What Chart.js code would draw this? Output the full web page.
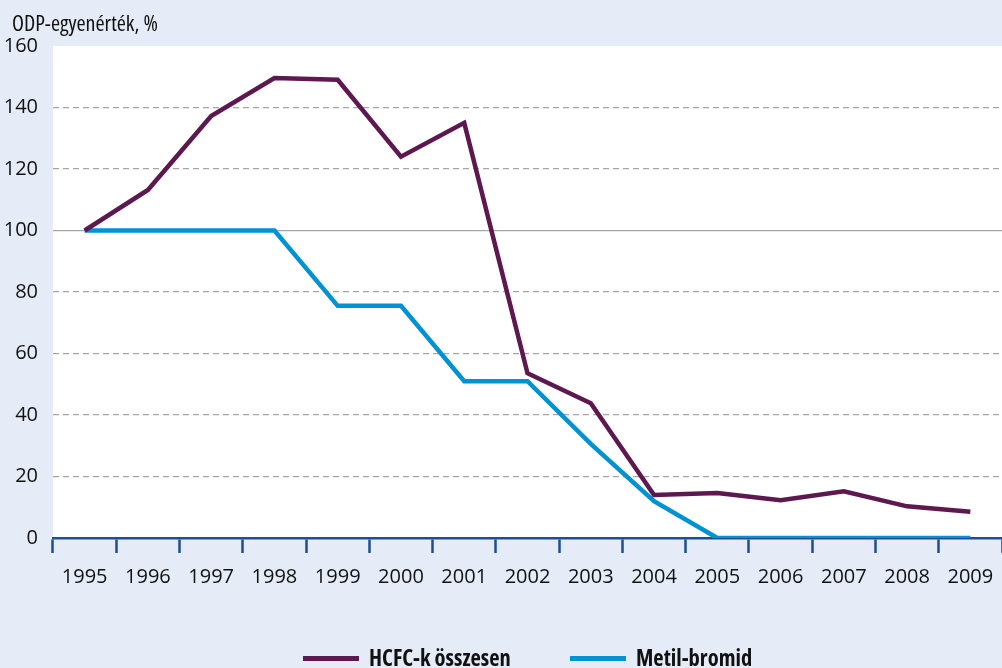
<!DOCTYPE html>
<html lang="hu">
  <head>
    <meta charset="UTF-8" />
    <script src="https://cdn.jsdelivr.net/npm/chart.js@4.4.1/dist/chart.umd.min.js"></script>
    <style>
      html, body { margin: 0; padding: 0; background: #e6ecf7; }
      #wrap { width: 1002px; height: 668px; }
    </style>
  </head>
  <body>
    <div id="wrap"><canvas id="myChart"></canvas></div>
    <script>
      // Data
      const years = ["1995", "1996", "1997", "1998", "1999", "2000", "2001", "2002",
        "2003", "2004", "2005", "2006", "2007", "2008", "2009"];
      const hcfc = [100, 113.2, 137.2, 149.6, 149, 124, 135, 53.6, 43.8, 14, 14.6, 12.3, 15.2, 10.3, 8.5];
      const metilBromid = [100, 100, 100, 100, 75.5, 75.5, 51, 51, 30.6, 12, 0, 0, 0, 0, 0];
      const yTicks = [0, 20, 40, 60, 80, 100, 120, 140, 160];

      const FONT = "'Open Sans', 'DejaVu Sans Condensed', sans-serif";
      const PURPLE = "#5d1850";
      const CYAN = "#0092d2";
      const AXIS = "#1d4f8e";

      // background + white plot area, title and bottom legend
      const decor = {
        id: "decor",
        beforeDraw(chart) {
          const { ctx, chartArea: a } = chart;
          ctx.save();
          ctx.fillStyle = "#e6ecf7";
          ctx.fillRect(0, 0, chart.width, chart.height);
          ctx.fillStyle = "#ffffff";
          ctx.fillRect(a.left, a.top, a.right - a.left, a.bottom - a.top);
          ctx.restore();
        },
        afterDraw(chart) {
          const { ctx } = chart;
          ctx.save();
          ctx.fillStyle = "#111";
          ctx.font = "condensed 22px " + FONT;
          ctx.textBaseline = "alphabetic";
          ctx.fillText("ODP-egyenérték, %", 12, 31);

          const items = [
            { x: 303, label: "HCFC-k összesen", color: PURPLE },
            { x: 570, label: "Metil-bromid", color: CYAN },
          ];
          ctx.font = "condensed bold 22.5px " + FONT;
          items.forEach((it) => {
            ctx.fillStyle = it.color;
            ctx.fillRect(it.x, 656, 56, 5);
            ctx.fillStyle = "#111";
            ctx.fillText(it.label, it.x + 66, 666);
          });
          ctx.restore();
        },
      };

      const ctx = document.getElementById("myChart").getContext("2d");
      const myChart = new Chart(ctx, {
        type: "line",
        data: {
          labels: years,
          datasets: [
            {
              label: "HCFC-k összesen",
              data: hcfc,
              borderColor: PURPLE,
              backgroundColor: PURPLE,
              borderWidth: 4.5,
              pointRadius: 0,
              tension: 0,
            },
            {
              label: "Metil-bromid",
              data: metilBromid,
              borderColor: CYAN,
              backgroundColor: CYAN,
              borderWidth: 4.5,
              pointRadius: 0,
              tension: 0,
            },
          ],
        },
        options: {
          responsive: true,
          maintainAspectRatio: false,
          animation: false,
          layout: {
            padding: { top: 46, left: 0, right: -8, bottom: 0 },
          },
          plugins: {
            legend: { display: false },
            tooltip: { enabled: false },
          },
          scales: {
            x: {
              offset: true,
              grid: {
                offset: true,
                drawOnChartArea: false,
                drawTicks: true,
                tickLength: 15,
                tickWidth: 2.5,
                tickColor: AXIS,
              },
              border: { display: true, color: AXIS, width: 2.5 },
              ticks: {
                color: "#111",
                padding: 12,
                maxRotation: 0,
                autoSkip: false,
                font: { family: FONT, size: 20, style: "condensed" },
              },
              afterFit(scale) {
                scale.height = 130;
                scale.paddingLeft = 0;
                scale.paddingRight = 0;
              },
            },
            y: {
              min: 0,
              max: 160,
              afterBuildTicks(scale) {
                scale.ticks = yTicks.map((v) => ({ value: v }));
              },
              grid: {
                drawTicks: false,
                lineWidth: 1.3,
                color: (c) => {
                  const v = c.tick && c.tick.value;
                  if (v === 0 || v === 160) return "rgba(0,0,0,0)";
                  return "#a6a6a6";
                },
              },
              border: {
                display: false,
                dash: (c) => (c.tick && c.tick.value === 100 ? [] : [6, 4]),
              },
              ticks: {
                color: "#111",
                padding: 15,
                font: { family: FONT, size: 20, style: "condensed" },
              },
              afterFit(scale) {
                scale.width = 53;
                scale.paddingTop = 0;
                scale.paddingBottom = 0;
              },
            },
          },
        },
        plugins: [decor],
      });
    </script>
  </body>
</html>
